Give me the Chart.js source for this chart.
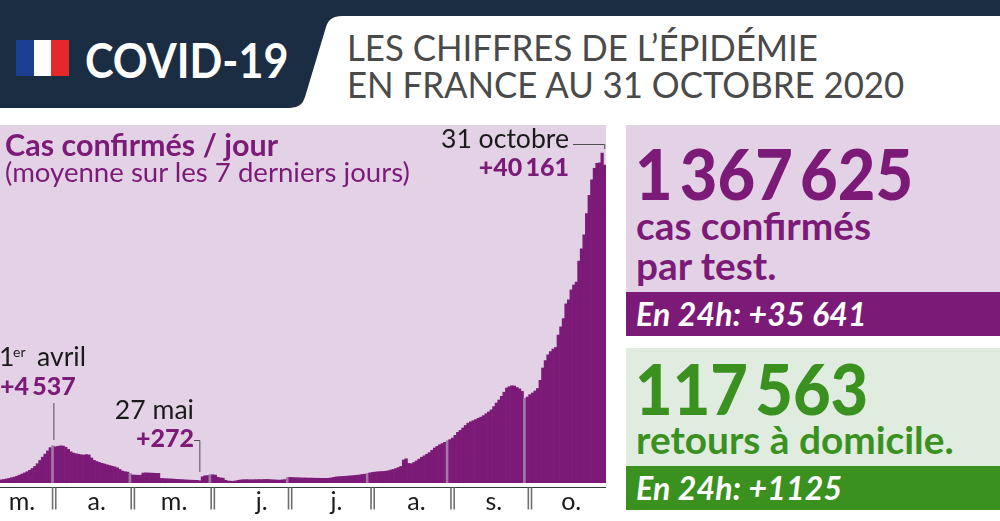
<!DOCTYPE html>
<html lang="fr">
<head>
<meta charset="utf-8">
<title>COVID-19</title>
<style>
  html, body { margin: 0; padding: 0; background: #fff; }
  body { width: 1000px; height: 521px; position: relative; overflow: hidden; font-family: Lato, sans-serif; }
  .abs { position: absolute; white-space: nowrap; line-height: 1; transform-origin: left top; }
  .panel { position: absolute; }
  #head { position: absolute; left: 0; top: 0; }
  #wrap { position: absolute; left: 0; top: 125px; width: 620px; height: 396px; }
  #bg { left: 0; top: 125px; width: 606px; height: 358px; background: #e3d2e6; }
  .big { font-weight: 900; font-size: 71px; word-spacing: -9px; transform: scaleX(.915); }
  .mid { font-weight: 700; font-size: 38.8px; }
  .bar24 { font-weight: 700; font-style: italic; font-size: 32px; color: #fff; letter-spacing: .2px; }
  .headline { font-size: 37px; color: #4a4a4a; transform: scaleX(.94); }
  .purple { color: #7c1a78; }
  .green { color: #3a911f; }
</style>
</head>
<body>
<svg id="head" width="1000" height="110">
  <path d="M0 0H1000V16H342Q329 16 326 27L305 97Q302 108 290 108H0Z" fill="#1b2d42"/>
  <rect x="16" y="40" width="18" height="36" fill="#1c3f94"/>
  <rect x="34" y="40" width="17" height="36" fill="#fff"/>
  <rect x="51" y="40" width="18" height="36" fill="#e5282a"/>
</svg>
<div class="abs" style="left:85px;top:37px;font-size:47px;font-weight:700;color:#fff;transform:scaleX(.918)">COVID-19</div>
<div class="abs headline" style="left:347px;top:28px">LES CHIFFRES DE L’ÉPIDÉMIE</div>
<div class="abs headline" style="left:347px;top:65px">EN FRANCE AU 31 OCTOBRE 2020</div>

<div class="panel" id="bg"></div>
<div id="wrap"><canvas id="chart" width="620" height="396"></canvas></div>
<div class="abs purple" style="left:5px;top:129px;font-size:30.5px;font-weight:700">Cas confirmés / jour</div>
<div class="abs purple" style="left:5px;top:158px;font-size:27.6px">(moyenne sur les 7 derniers jours)</div>

<div class="panel" style="left:626px;top:125px;width:374px;height:167px;background:#e3d2e6"></div>
<div class="panel" style="left:626px;top:292px;width:374px;height:44px;background:#7c1a78"></div>
<div class="panel" style="left:626px;top:348px;width:374px;height:118px;background:#e0ecdf"></div>
<div class="panel" style="left:626px;top:466px;width:374px;height:44px;background:#3a911f"></div>
<div class="abs big purple" style="left:635px;top:137px">1 367 625</div>
<div class="abs mid purple" style="left:636px;top:206px">cas confirmés</div>
<div class="abs mid purple" style="left:636px;top:246px">par test.</div>
<div class="abs bar24" style="left:636px;top:298px">En 24h: +35 641</div>
<div class="abs big green" style="left:635px;top:352px">117 563</div>
<div class="abs mid green" style="left:636px;top:420px">retours à domicile.</div>
<div class="abs bar24" style="left:636px;top:472px">En 24h: +1125</div>

<script src="https://cdn.jsdelivr.net/npm/chart.js@4"></script>
<script>
// Daily values, first bar is 12 March
const marValues = [380,430,490,560,640,720,820,950,1090,1220,1370,1540,1760,2020,2350,2750,3150,3520,3900,4300];
const aprValues = [4537,4400,4470,4520,4500,4350,4100,3800,3640,3560,3500,3440,3400,3460,3420,3050,2760,2620,2500,2400,2320,2220,2130,2040,1960,1850,1650,1450,1380,1320];
const mayValues = [1150,980,960,950,940,1210,1230,1220,1210,1190,1180,1170,560,540,520,500,490,470,450,430,410,390,370,350,340,330,320,272,760,880,900];
const junValues = [1020,1000,960,700,620,590,330,240,220,210,260,330,380,400,410,400,390,400,410,420,410,430,440,420,400,380,360,350,380,420];
const julValues = [680,680,670,650,640,620,620,610,600,600,590,580,580,570,570,570,580,620,690,740,770,790,810,830,860,890,920,950,980,1040,1080];
const augValues = [1170,1230,1290,1330,1360,1390,1410,1430,1490,1570,1650,1760,1880,2020,2800,2950,2380,2340,2500,2680,2900,3130,3310,3500,3700,3980,4260,4460,4650,4800,4950];
const sepValues = [5150,5280,5470,5800,6170,6400,6700,7000,7280,7450,7580,7720,7880,8020,8200,8430,8650,8900,9300,9730,10100,10550,11050,11560,11720,11840,11800,11620,11450,11150];
const octValues = [10300,10460,10750,10950,11200,11500,12500,14000,14900,15600,16000,16300,16500,18000,19000,20000,21800,22300,23500,24100,24450,27000,28500,30200,32800,35000,36900,38300,38900,38950,40161];
const novValues = [38700];

const monthLabels = ['m.','a.','m.','j.','j.','a.','s.','o.'];
const monthLabelDays = [8,37,67,101,130,161,191,221];   // bar under which each letter sits
const firstOfMonth = [20,50,81,111,142,173,203];
const monthTicks = [20.5,51,82,112,144,175,205];

const values = [].concat(marValues, aprValues, mayValues, junValues, julValues, augValues, sepValues, octValues, novValues);
const days = values.map((v, i) => i);

// Axis rule, month separators and the three callouts
const overlay = {
  id: 'overlay',
  afterDraw(chart) {
    const { ctx, chartArea } = chart;
    const x = chart.scales.x;
    const axisY = chartArea.bottom + 4.5;
    ctx.save();
    ctx.strokeStyle = '#3a3a3a';
    ctx.lineWidth = 1;
    ctx.beginPath(); ctx.moveTo(0, axisY); ctx.lineTo(chartArea.right, axisY); ctx.stroke();

    ctx.strokeStyle = '#6e6e6e';
    ctx.lineWidth = 1.6;
    monthTicks.forEach(t => {
      const px = x.getPixelForValue(t);
      [-1.6, 1.6].forEach(d => {
        ctx.beginPath(); ctx.moveTo(px + d, axisY); ctx.lineTo(px + d, axisY + 22); ctx.stroke();
      });
    });

    // leaders
    const line = pts => {
      ctx.beginPath();
      pts.forEach((p, i) => i ? ctx.lineTo(p[0], p[1]) : ctx.moveTo(p[0], p[1]));
      ctx.stroke();
    };
    ctx.strokeStyle = '#4d4d4d';
    ctx.lineWidth = 1;
    const apr = x.getPixelForValue(20) + 1;
    line([[apr, 278], [apr, 315]]);
    const may = x.getPixelForValue(77);
    line([[194, 315.5], [may, 315.5], [may, 347]]);
    const oct = x.getPixelForValue(234);
    line([[573, 19.5], [oct, 19.5], [oct, 24]]);

    // labels
    const text = (s, px, py, font, color, align) => {
      ctx.font = font; ctx.fillStyle = color; ctx.textAlign = align; ctx.textBaseline = 'alphabetic';
      ctx.fillText(s, px, py);
    };
    const reg = '26.6px Lato, sans-serif', bold = '900 25px Lato, sans-serif';
    text('31 octobre', 569, 23, reg, '#1a1a1a', 'right');
    text('+40\u2009161', 569, 51, bold, '#7c1a78', 'right');
    text('1', -1, 241, reg, '#1a1a1a', 'left');
    text('er', 13, 232, '14px Lato, sans-serif', '#1a1a1a', 'left');
    text('avril', 37, 241, reg, '#1a1a1a', 'left');
    text('+4\u2009537', 0, 270, bold, '#7c1a78', 'left');
    text('27 mai', 194, 294, reg, '#1a1a1a', 'right');
    text('+272', 194, 322, bold, '#7c1a78', 'right');
    ctx.restore();
  }
};

new Chart(document.getElementById('chart'), {
  type: 'bar',
  data: {
    labels: days,
    datasets: [{
      data: values,
      backgroundColor: days.map(d => firstOfMonth.includes(d) ? '#a578a6' : '#7c1a78'),
      borderWidth: 0,
      barPercentage: 1, categoryPercentage: 1,
    }]
  },
  options: {
    responsive: false, animation: false,
    layout: { padding: { left: 0, right: 14, top: 0, bottom: 0 } },
    plugins: { legend: { display: false }, tooltip: { enabled: false } },
    scales: {
      x: {
        grid: { display: false, drawTicks: false },
        border: { display: false },
        afterFit: s => { s.height = 38; s.paddingLeft = 0; s.paddingRight = 0; },
        ticks: {
          autoSkip: false, maxRotation: 0, padding: 4,
          color: '#1a1a1a', font: { family: 'Lato, sans-serif', size: 25 },
          callback: (v, i) => {
            const m = monthLabelDays.indexOf(i);
            return m >= 0 ? monthLabels[m] : '';
          }
        }
      },
      y: { display: false, min: 0, max: 43566 }
    }
  },
  plugins: [overlay]
});
</script>
</body>
</html>
